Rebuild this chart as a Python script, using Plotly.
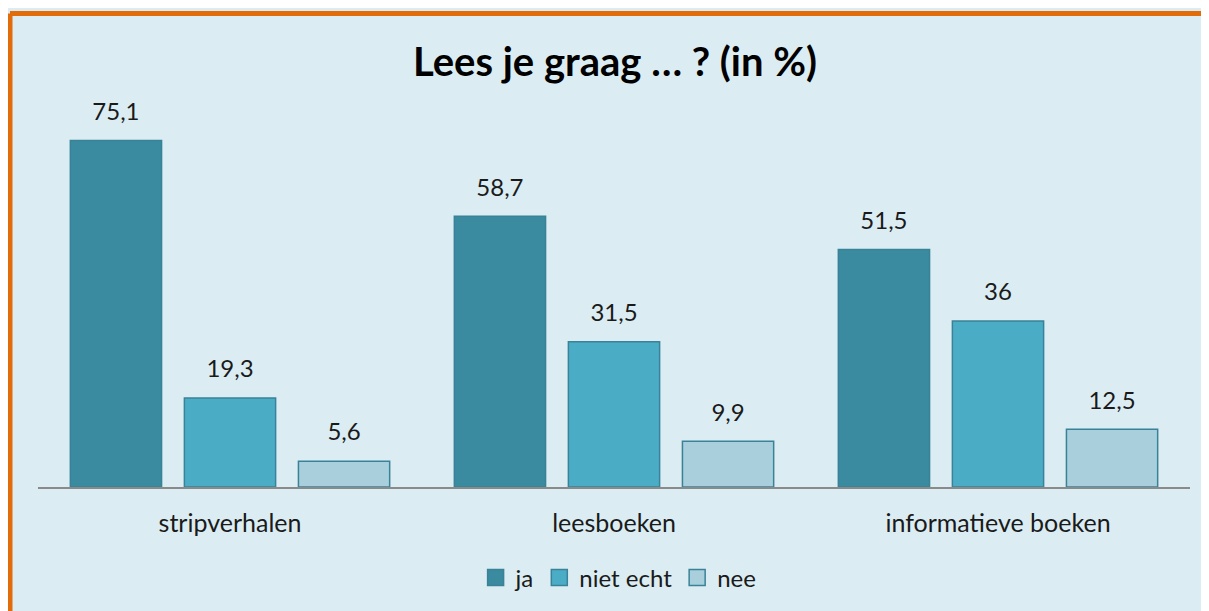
import plotly.graph_objects as go

categories = ["stripverhalen", "leesboeken", "informatieve boeken"]
series_names = ["ja", "niet echt", "nee"]
ja = [75.1, 58.7, 51.5]
niet_echt = [19.3, 31.5, 36]
nee = [5.6, 9.9, 12.5]
labels_ja = ["75,1", "58,7", "51,5"]
labels_niet_echt = ["19,3", "31,5", "36"]
labels_nee = ["5,6", "9,9", "12,5"]

values = [ja, niet_echt, nee]
labels = [labels_ja, labels_niet_echt, labels_nee]
colors = ["#3A8AA0", "#4BACC6", "#A9CEDC"]
outline = "#3A8297"
FONT = "Lato"
GAP = 0.109
W, H = 1240, 640

fig = go.Figure()
for i, name in enumerate(series_names):
    fig.add_trace(go.Bar(
        x=categories, y=values[i], name=name, showlegend=False,
        marker=dict(color=colors[i], line=dict(color=outline, width=1.5)),
        offsetgroup=str(i), alignmentgroup="g",
    ))
for i, name in enumerate(series_names):
    fig.add_trace(go.Scatter(
        x=categories, y=values[i], mode="markers+text", text=labels[i],
        marker=dict(size=22, color="rgba(0,0,0,0)"),
        textposition="top center", showlegend=False, hoverinfo="skip",
        textfont=dict(size=24, color="#1a1a1a", family=FONT),
        offsetgroup=str(i), alignmentgroup="g", cliponaxis=False,
    ))
# legend entries (square swatches)
for i, name in enumerate(series_names):
    fig.add_trace(go.Scatter(
        x=[None], y=[None], mode="markers", name=name,
        marker=dict(symbol="square", size=17, color=colors[i], line=dict(color=outline, width=1.5)),
    ))

fig.update_layout(
    width=W, height=H,
    paper_bgcolor="#DBEDF3", plot_bgcolor="rgba(0,0,0,0)",
    margin=dict(l=30, r=W - 1182, t=110, b=H - 479),
    barmode="group", bargap=GAP, bargroupgap=0.2,
    scattermode="group", scattergap=GAP,
    font=dict(family=FONT, size=24, color="#1a1a1a"),
    title=dict(text="<b>Lees je graag … ? (in %)</b>", x=607 / W, xanchor="center",
               y=1 - 54 / H, yanchor="middle", yref="container",
               font=dict(size=40, color="black", family=FONT)),
    showlegend=True,
    legend=dict(orientation="h", x=0.504, xanchor="center", y=1 - 570 / H, yref="container",
                yanchor="middle", font=dict(size=24, color="#1a1a1a"), traceorder="normal",
                bgcolor="rgba(0,0,0,0)", itemwidth=30),
    xaxis=dict(showline=True, linecolor="#8A8A8A", linewidth=2, showgrid=False,
               ticks="", ticklabelstandoff=13, tickfont=dict(size=25, color="#1a1a1a")),
    yaxis=dict(range=[0, 80], visible=False, showgrid=False),
    shapes=[
        dict(type="line", xref="paper", yref="paper", x0=-0.0243, x1=-0.0243, y0=-0.6, y1=1.2832,
             line=dict(color="#E36C0A", width=5), layer="below"),
        dict(type="line", xref="paper", yref="paper", x0=-0.0243, x1=1.3, y0=1.2832, y1=1.2832,
             line=dict(color="#E36C0A", width=5), layer="below"),
    ],
)

fig.write_html("out.html")
